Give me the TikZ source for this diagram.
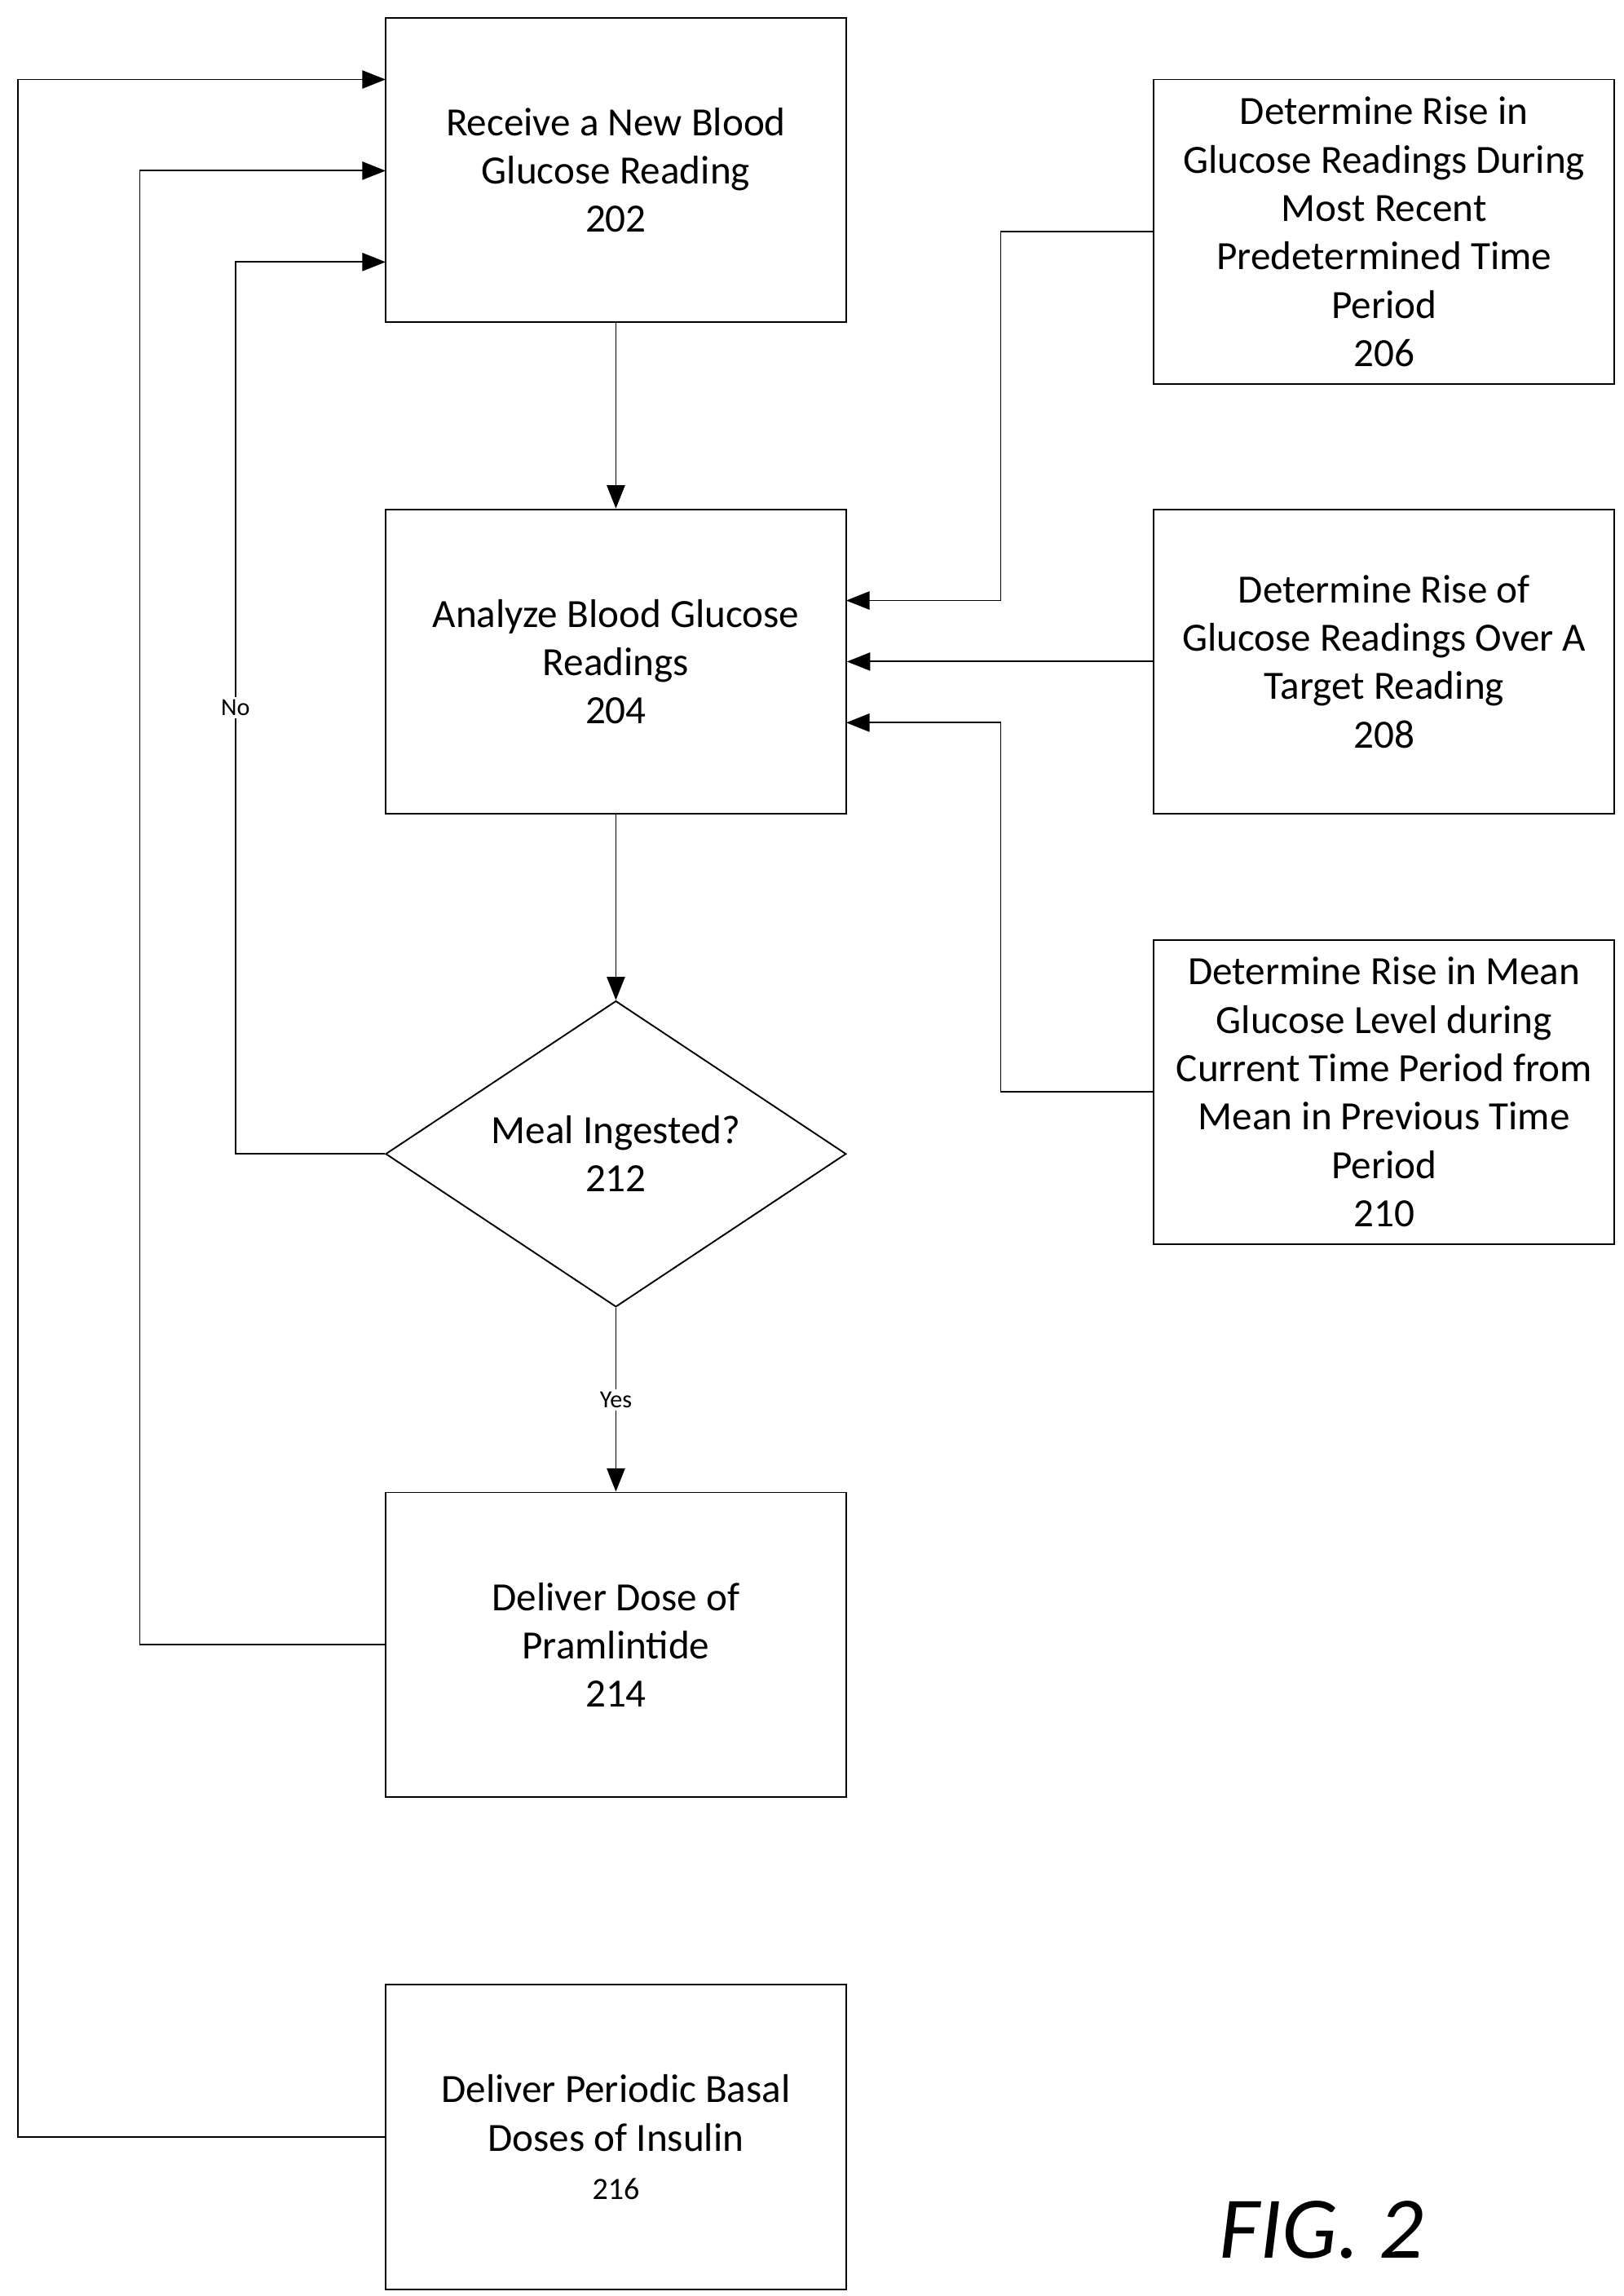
\documentclass[tikz,border=0pt]{standalone}
\usepackage{fontspec}
\setmainfont{Carlito}
\usetikzlibrary{shapes.geometric,arrows.meta,positioning}
\begin{document}
\begin{tikzpicture}[x=0.02cm,y=-0.02cm,
  box/.style={draw,line width=0.6pt,minimum width=6.26cm,minimum height=4.14cm,align=center,inner sep=2pt,font=\fontsize{15.5}{18.7}\selectfont},
  arr/.style={line width=0.6pt,-{Triangle[width=7pt,length=9pt]}},
  lbl/.style={font=\fontsize{9.5}{11}\selectfont,fill=white,inner sep=1pt}]
  \useasboundingbox (0,0) rectangle (1103,1560);

  % Main column
  \node (receive)[box] at (418.5,115.5) {Receive a New Blood\\Glucose Reading\\202};
  \node (analyze)[box] at (418.5,449.5) {Analyze Blood Glucose\\Readings\\204};
  \node (meal)[draw,line width=0.6pt,diamond,aspect=1.5,inner sep=0pt,minimum width=6.26cm,minimum height=4.16cm,align=center,font=\fontsize{15.5}{18.7}\selectfont] at (418.5,784) {Meal Ingested?\\212};
  \node (pram)[box] at (418.5,1117.5) {Deliver Dose of\\Pramlintide\\214};
  \node (basal)[box] at (418.5,1452) {Deliver Periodic Basal\\Doses of Insulin\\{\fontsize{12}{14}\selectfont 216}};

  % Side column
  \node (recent)[box] at (940.5,157.5) {Determine Rise in\\Glucose Readings During\\Most Recent\\Predetermined Time\\Period\\206};
  \node (target)[box] at (940.5,449.5) {Determine Rise of\\Glucose Readings Over A\\Target Reading\\208};
  \node (mean)[box] at (940.5,742) {Determine Rise in Mean\\Glucose Level during\\Current Time Period from\\Mean in Previous Time\\Period\\210};

  \node at (898,1515) {\fontsize{34}{40}\selectfont\itshape FIG. 2};

  % Flow
  \draw[arr] (receive) -- (analyze);
  \draw[arr] (analyze) -- (meal);
  \draw[arr] (meal) -- node[lbl]{Yes} (pram);
  \draw[arr] (meal.west) -| (160,481) node[lbl]{No} |- (262,178);
  \draw[arr] (pram.west) -| (95,116) -- (262,116);
  \draw[arr] (basal.west) -| (12,54) -- (262,54);

  % Inputs to analysis
  \draw[arr] (recent.west) -| (680,408) -- (575,408);
  \draw[arr] (target) -- (analyze);
  \draw[arr] (mean.west) -| (680,491) -- (575,491);
\end{tikzpicture}
\end{document}
